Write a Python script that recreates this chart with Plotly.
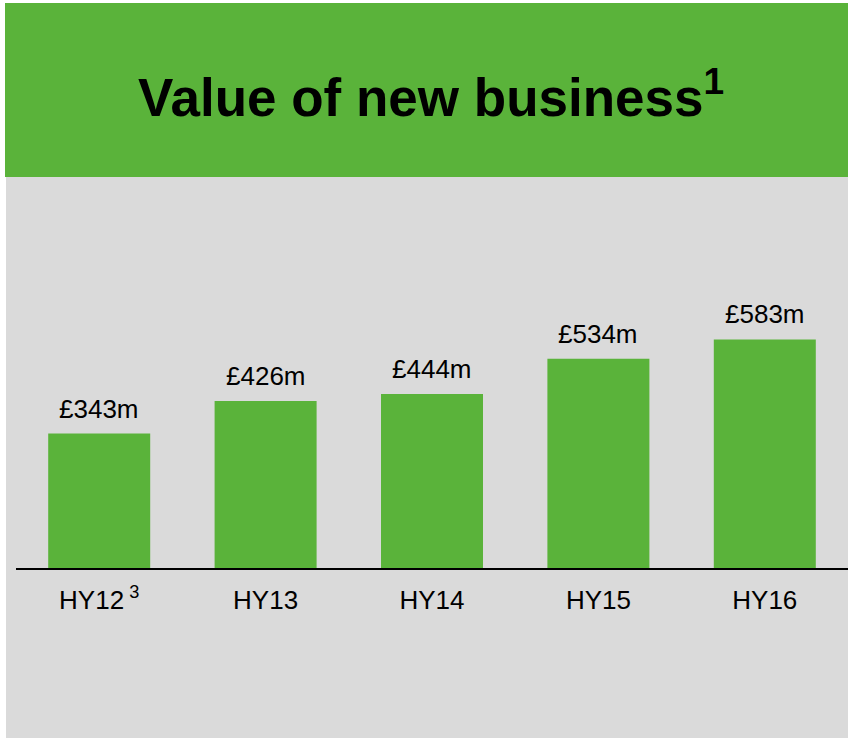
import plotly.graph_objects as go

categories = ["HY12", "HY13", "HY14", "HY15", "HY16"]
tick_labels = ["HY12<sup> 3</sup>", "HY13", "HY14", "HY15", "HY16"]
values = [343, 426, 444, 534, 583]
value_labels = ["£343m", "£426m", "£444m", "£534m", "£583m"]
title_text = "<b>Value of new business<sup>1</sup></b>"

W, H = 848, 738
ML, MR, MT, MB = 16, 0, 200, 170
PW, PH = W - ML - MR, H - MT - MB

def px(x):
    return (x - ML) / PW

def py(y):
    return (H - MB - y) / PH

GREEN = "#5AB33A"
GRAY = "#DADADA"
FONT = "Liberation Sans, Arial, sans-serif"

fig = go.Figure()
fig.add_trace(go.Bar(
    x=categories, y=values,
    marker=dict(color=GREEN, line=dict(width=0)),
    hoverinfo="skip",
))

for c, v, t in zip(categories, values, value_labels):
    fig.add_annotation(x=c, y=v, xref="x", yref="y", text=t, showarrow=False,
                       yanchor="bottom", yshift=8,
                       font=dict(family=FONT, size=26, color="black"))

fig.add_annotation(xref="paper", yref="paper", x=px(431), y=py(93),
                   text=title_text, showarrow=False, xanchor="center", yanchor="middle",
                   font=dict(family=FONT, size=53, color="black"))

shapes = [
    dict(type="rect", xref="paper", yref="paper", x0=px(5), x1=px(848), y0=py(177), y1=py(3),
         fillcolor=GREEN, line=dict(width=0), layer="below"),
    dict(type="rect", xref="paper", yref="paper", x0=px(6), x1=px(848), y0=py(738), y1=py(177),
         fillcolor=GRAY, line=dict(width=0), layer="below"),
]

fig.update_layout(
    width=W, height=H,
    margin=dict(l=ML, r=MR, t=MT, b=MB, pad=0),
    paper_bgcolor="white", plot_bgcolor="rgba(0,0,0,0)",
    shapes=shapes,
    bargap=0.387,
    showlegend=False,
    font=dict(family=FONT, color="black"),
    xaxis=dict(tickvals=categories, ticktext=tick_labels, showline=True, linecolor="black",
               linewidth=2, ticks="outside", ticklen=8, tickcolor="rgba(0,0,0,0)",
               tickfont=dict(family=FONT, size=26, color="black"), showgrid=False,
               range=[-0.5, 4.5], fixedrange=True),
    yaxis=dict(visible=False, range=[0, 938.8], fixedrange=True),
)

fig.write_html("out.html", config={"displayModeBar": False},
               post_script="document.body.style.margin='0px';document.body.style.padding='0px';")
